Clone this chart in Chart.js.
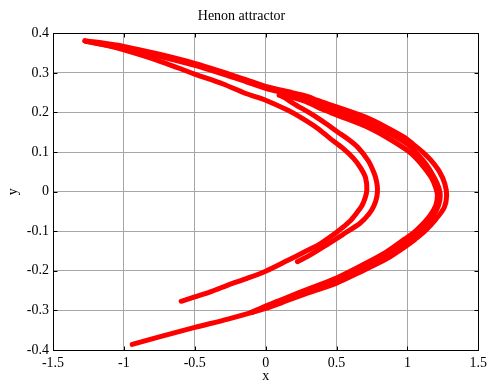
<!DOCTYPE html>
<html>
<head>
<meta charset="utf-8">
<script src="https://cdn.jsdelivr.net/npm/chart.js@4.4.1/dist/chart.umd.min.js"></script>
<style>
  body { margin: 0; background: #fff; }
  canvas { display: block; }
</style>
</head>
<body>
<canvas id="graph" width="492" height="383"></canvas>
<script>
// tick positions
var xTicks = [-1.5, -1, -0.5, 0, 0.5, 1, 1.5];
var yTicks = [-0.4, -0.3, -0.2, -0.1, 0, 0.1, 0.2, 0.3, 0.4];

// inner fold with tip near x=0.71, from its lower end up to the top-left corner
var innerX = [-0.596, -0.5, -0.38, -0.266, -0.13, 0, 0.154, 0.27, 0.387, 0.503, 0.596, 0.64, 0.68, 0.703, 0.714,
  0.705, 0.67, 0.62, 0.54, 0.456, 0.363, 0.25, 0.154, 0, -0.14, -0.3, -0.5, -0.75, -1.0, -1.15, -1.25, -1.275];
var innerY = [-0.277, -0.266, -0.252, -0.236, -0.219, -0.201, -0.174, -0.153, -0.131, -0.102, -0.074, -0.055, -0.035, -0.015, 0.005,
  0.035, 0.06, 0.084, 0.111, 0.134, 0.161, 0.187, 0.206, 0.231, 0.248, 0.272, 0.297, 0.33, 0.358, 0.372, 0.379, 0.381];

// outer curve, from the top-left corner round the tip at x=1.28 to the bottom-left end
var outerX = [-1.275, -1.2, -1.0, -0.75, -0.5, -0.3, -0.14, 0, 0.2, 0.3, 0.363, 0.5, 0.713, 0.85, 0.98, 1.04, 1.108, 1.164, 1.227, 1.264, 1.277,
  1.26, 1.2, 1.123, 1.056, 0.98, 0.853, 0.69, 0.5, 0.3, 0.154, 0, -0.266, -0.5, -0.75, -0.941];
var outerY = [0.381, 0.378, 0.367, 0.347, 0.324, 0.302, 0.283, 0.266, 0.249, 0.24, 0.231, 0.214, 0.187, 0.163, 0.137, 0.12, 0.1, 0.08, 0.05, 0.02, -0.01,
  -0.04, -0.07, -0.1, -0.12, -0.14, -0.17, -0.199, -0.231, -0.256, -0.275, -0.295, -0.322, -0.343, -0.367, -0.386];

// second inner fold with tip near x=0.79, from its lower end up to the hook at (0.1, 0.24)
var foldX = [0.224, 0.3, 0.41, 0.55, 0.666, 0.73, 0.765, 0.785, 0.789, 0.781, 0.765, 0.724, 0.65, 0.58, 0.503, 0.43, 0.363, 0.305, 0.2, 0.13, 0.096];
var foldY = [-0.177, -0.163, -0.139, -0.107, -0.08, -0.056, -0.035, -0.012, 0.008, 0.028, 0.047, 0.078, 0.112, 0.133, 0.152, 0.171, 0.187, 0.2, 0.222, 0.238, 0.244];

// from the hook along the inside of the outer band
var bandInX = [0.096, 0.14, 0.2, 0.3, 0.4, 0.5, 0.713, 0.85, 1.0, 1.06, 1.12, 1.17, 1.2, 1.212,
  1.2, 1.16, 1.1, 1.04, 0.98, 0.853, 0.69, 0.5, 0.3, 0.154, 0, -0.1];
var bandInY = [0.244, 0.243, 0.237, 0.225, 0.208, 0.194, 0.164, 0.138, 0.104, 0.085, 0.06, 0.035, 0.01, -0.01,
  -0.035, -0.06, -0.085, -0.105, -0.12, -0.152, -0.184, -0.218, -0.246, -0.267, -0.289, -0.305];

// middle of the outer band
var bandMidX = [-1.265, -1.0, -0.75, -0.5, -0.3, -0.14, 0, 0.2, 0.363, 0.5, 0.713, 0.85, 1.0, 1.07, 1.14, 1.19, 1.222, 1.232,
  1.22, 1.18, 1.115, 1.05, 0.98, 0.853, 0.69, 0.5, 0.3, 0.154, 0, -0.1];
var bandMidY = [0.379, 0.362, 0.342, 0.319, 0.297, 0.278, 0.261, 0.243, 0.223, 0.204, 0.176, 0.151, 0.12, 0.095, 0.065, 0.035, 0.01, -0.01,
  -0.035, -0.062, -0.09, -0.11, -0.13, -0.161, -0.191, -0.224, -0.25, -0.27, -0.292, -0.305];

function toPoints(xs, ys) {
  return xs.map(function (x, i) { return { x: x, y: ys[i] }; });
}

function strand(xs, ys) {
  return {
    data: toPoints(xs, ys),
    showLine: true,
    borderColor: '#ff0000',
    backgroundColor: '#ff0000',
    borderWidth: 5,
    borderCapStyle: 'round',
    borderJoinStyle: 'round',
    pointRadius: 0,
    tension: 0.3,
    fill: false
  };
}

var serif = 'Liberation Serif, Times New Roman, serif';

// black box and inward tick marks, matlab style
var boxPlugin = {
  id: 'box',
  afterDatasetsDraw: function (chart) {
    var ctx = chart.ctx, a = chart.chartArea;
    var sx = chart.scales.x, sy = chart.scales.y;
    var l = Math.round(a.left) + 0.5, r = Math.round(a.right) + 0.5;
    var t = Math.round(a.top) + 0.5, b = Math.round(a.bottom) + 0.5;
    ctx.save();
    ctx.strokeStyle = '#000';
    ctx.lineWidth = 1;
    ctx.strokeRect(l, t, r - l, b - t);
    ctx.beginPath();
    xTicks.forEach(function (v) {
      var px = Math.round(sx.getPixelForValue(v)) + 0.5;
      ctx.moveTo(px, b); ctx.lineTo(px, b - 4);
      ctx.moveTo(px, t); ctx.lineTo(px, t + 4);
    });
    yTicks.forEach(function (v) {
      var py = Math.round(sy.getPixelForValue(v)) + 0.5;
      ctx.moveTo(l, py); ctx.lineTo(l + 4, py);
      ctx.moveTo(r, py); ctx.lineTo(r - 4, py);
    });
    ctx.stroke();
    ctx.restore();
  }
};

function drawGraph() {
  var ctx = document.getElementById('graph').getContext('2d');

  new Chart(ctx, {
    type: 'scatter',
    data: {
      datasets: [
        strand(innerX, innerY),
        strand(outerX, outerY),
        strand(foldX, foldY),
        strand(bandInX, bandInY),
        strand(bandMidX, bandMidY)
      ]
    },
    options: {
      responsive: false,
      animation: false,
      layout: { padding: { top: 0, right: 9, bottom: 0, left: 0 } },
      plugins: {
        legend: { display: false },
        tooltip: { enabled: false },
        title: {
          display: true,
          text: 'Henon attractor',
          color: '#000',
          font: { family: serif, size: 14, weight: 'normal' },
          padding: { top: 7.8, bottom: 8.7 }
        }
      },
      scales: {
        x: {
          type: 'linear',
          min: -1.5,
          max: 1.5,
          afterBuildTicks: function (scale) {
            scale.ticks = xTicks.map(function (v) { return { value: v }; });
          },
          afterFit: function (scale) { scale.height = 33; },
          grid: { color: '#a6a6a6', lineWidth: 1, drawTicks: false },
          border: { display: false },
          ticks: {
            autoSkip: false,
            maxRotation: 0,
            padding: 5,
            color: '#000',
            font: { family: serif, size: 14 },
            callback: function (v) { return String(v); }
          },
          title: {
            display: true,
            text: 'x',
            color: '#000',
            font: { family: serif, size: 14, lineHeight: 1 },
            padding: { top: 0, bottom: 0 }
          }
        },
        y: {
          type: 'linear',
          min: -0.4,
          max: 0.4,
          afterBuildTicks: function (scale) {
            scale.ticks = yTicks.map(function (v) { return { value: v }; });
          },
          afterFit: function (scale) { scale.width = 53; },
          grid: { color: '#a6a6a6', lineWidth: 1, drawTicks: false },
          border: { display: false },
          ticks: {
            autoSkip: false,
            padding: 4,
            color: '#000',
            font: { family: serif, size: 14 },
            callback: function (v) { return String(v); }
          },
          title: {
            display: true,
            text: 'y',
            color: '#000',
            font: { family: serif, size: 14 },
            padding: { top: 5, bottom: 0 }
          }
        }
      }
    },
    plugins: [boxPlugin]
  });
}

drawGraph();
</script>
</body>
</html>
